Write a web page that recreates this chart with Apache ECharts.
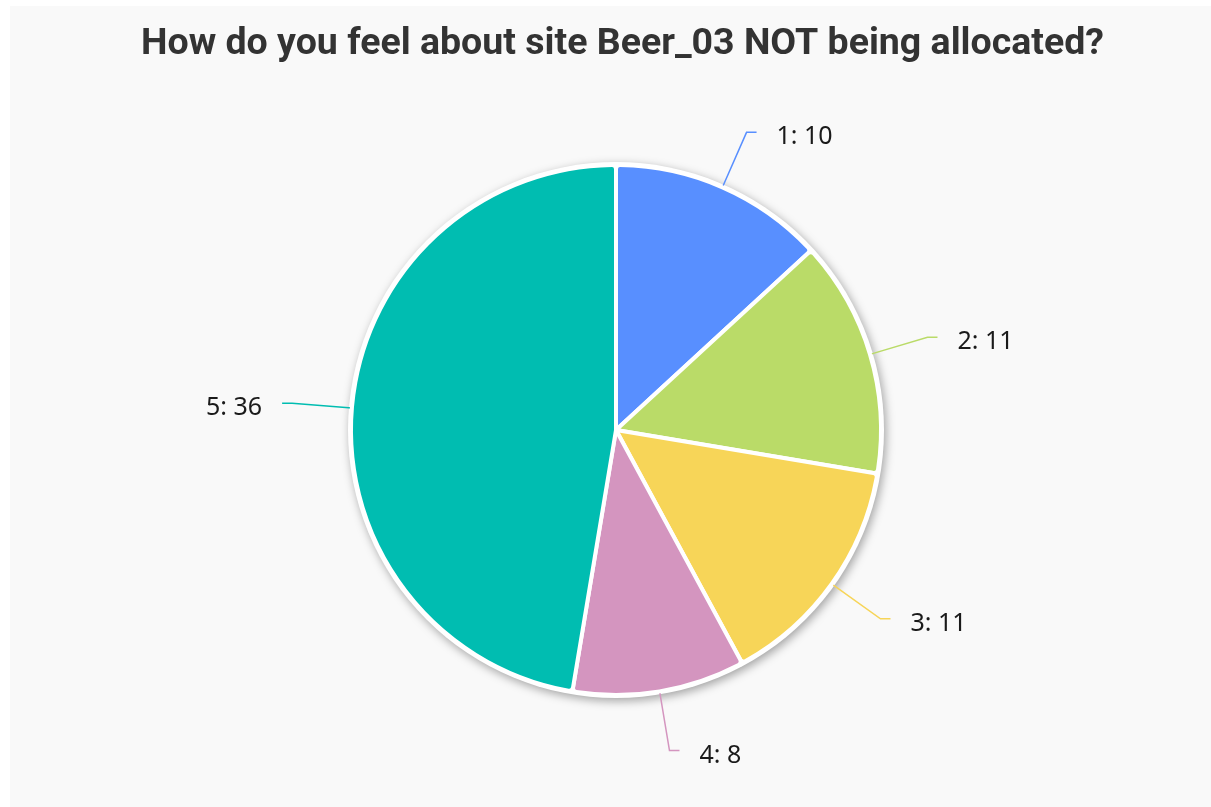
<!DOCTYPE html>
<html>
<head>
<meta charset="utf-8">
<script src="https://cdn.jsdelivr.net/npm/echarts@6/dist/echarts.min.js"></script>
<style>
  html, body { margin: 0; padding: 0; background: #ffffff; width: 1211px; height: 807px; overflow: hidden; }
  #chart { position: absolute; left: 10px; top: 6px; width: 1201px; height: 801px; }
</style>
</head>
<body>
<div id="chart"></div>
<script>
const categories = ['1', '2', '3', '4', '5'];
const values = [10, 11, 11, 8, 36];
const colors = ['#588fff', '#badb68', '#f7d558', '#d495bf', '#00bdb1'];
const titleText = 'How do you feel about site Beer_03 NOT being allocated?';

const chart = echarts.init(document.getElementById('chart'), null, { renderer: 'canvas' });
const pieData = categories.map((c, i) => ({ name: c, value: values[i], itemStyle: { color: colors[i] }, labelLine: { lineStyle: { color: colors[i] } } }));

chart.setOption({
  backgroundColor: '#f9f9f9',
  animation: false,
  title: {
    text: titleText,
    left: 126,
    top: 15,
    textStyle: { fontFamily: 'Roboto', fontWeight: 'bold', fontSize: 37.5, color: '#333333' }
  },
  series: [
    {
      type: 'pie',
      silent: true,
      center: [606, 424],
      radius: [0, 268],
      data: [{ value: 1, name: '' }],
      label: { show: false },
      labelLine: { show: false },
      itemStyle: { color: '#ffffff', shadowBlur: 10, shadowColor: 'rgba(0,0,0,0.35)', shadowOffsetX: 2, shadowOffsetY: 3 },
      z: 1
    },
    {
      type: 'pie',
      center: [606, 424],
      radius: [0, 265],
      startAngle: 90,
      clockwise: true,
      data: pieData,
      itemStyle: { borderColor: '#ffffff', borderWidth: 4, borderRadius: 4 },
      label: {
        formatter: '{t|{b}: {c}}',
        rich: {
          t: { fontFamily: 'Noto Sans', fontSize: 25, color: '#1a1a1a', padding: [10, 0, 0, 0] }
        },
        distanceToLabelLine: 20
      },
      labelLine: { length: 60, length2: 10, lineStyle: { width: 1.5 } },
      z: 2
    }
  ]
});
</script>
</body>
</html>
